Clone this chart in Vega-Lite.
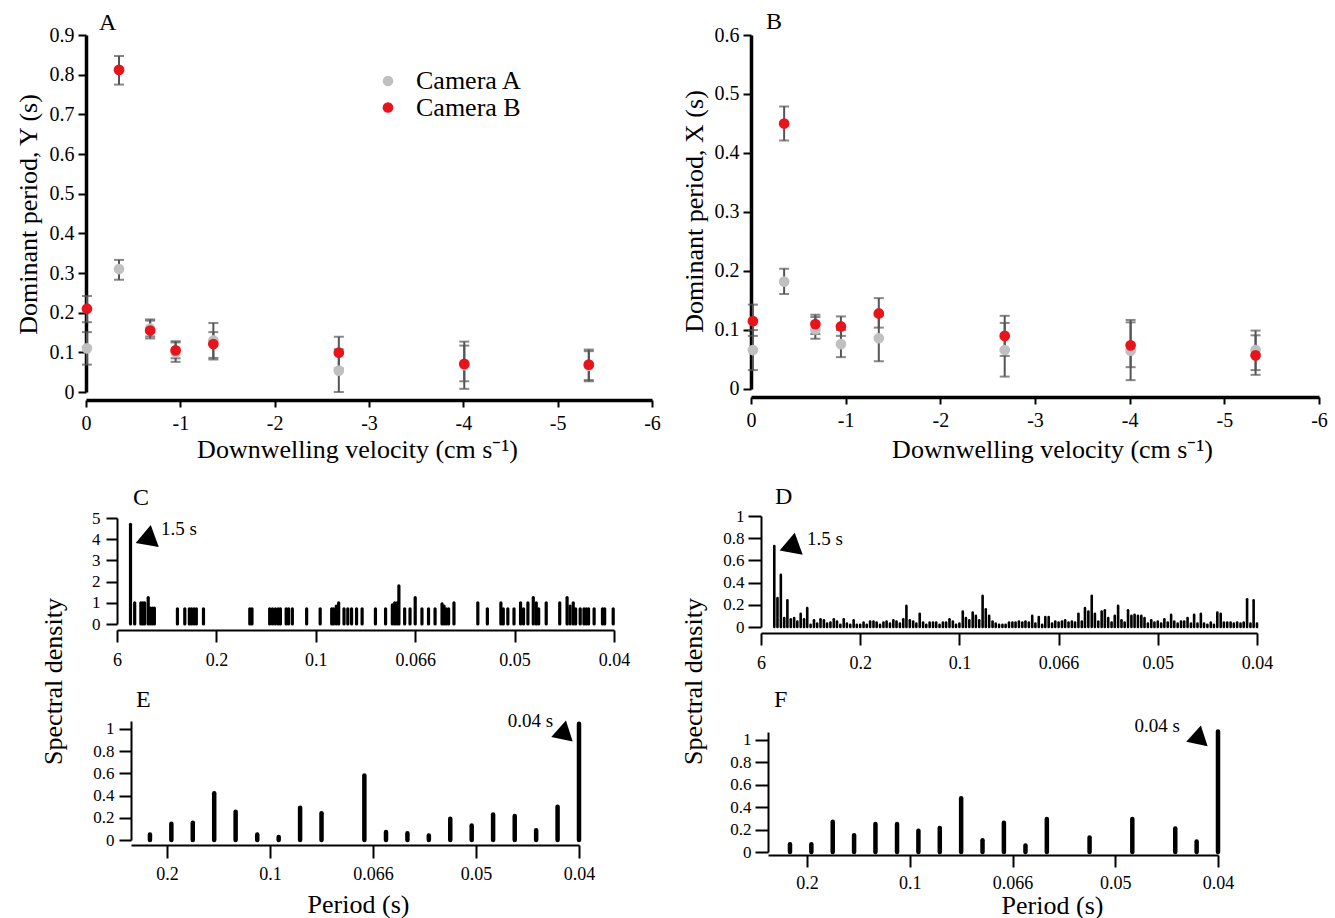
{
  "$schema": "https://vega.github.io/schema/vega-lite/v6.json",
  "background": "white",
  "padding": {"left": 15, "top": 10, "right": 5, "bottom": 0},
  "bounds": "flush",
  "spacing": 665,
  "resolve": {"scale": {"color": "independent"}, "legend": {"color": "independent"}},
  "config": {
    "font": "Liberation Serif",
    "view": {"stroke": null},
    "axis": {"grid": false, "domainColor": "black", "tickColor": "black", "labelColor": "black", "titleColor": "black", "titleFontWeight": "normal", "labelFont": "Liberation Serif", "titleFont": "Liberation Serif", "labelFlush": false, "labelOverlap": false},
    "title": {"font": "Liberation Serif", "fontWeight": "normal", "color": "black", "fontSize": 24, "anchor": "start", "frame": "group", "offset": 0, "baseline": "alphabetic"}
  },
  "datasets": {
    "a": [
      {"cam": "Camera A", "v": -0.01, "p": 0.11, "lo": 0.069, "hi": 0.151},
      {"cam": "Camera A", "v": -0.35, "p": 0.31, "lo": 0.283, "hi": 0.333},
      {"cam": "Camera A", "v": -0.68, "p": 0.16, "lo": 0.14, "hi": 0.18},
      {"cam": "Camera A", "v": -0.95, "p": 0.10, "lo": 0.076, "hi": 0.125},
      {"cam": "Camera A", "v": -1.35, "p": 0.13, "lo": 0.086, "hi": 0.174},
      {"cam": "Camera A", "v": -2.68, "p": 0.054, "lo": 0.0, "hi": 0.108},
      {"cam": "Camera A", "v": -4.01, "p": 0.068, "lo": 0.008, "hi": 0.127},
      {"cam": "Camera A", "v": -5.33, "p": 0.066, "lo": 0.027, "hi": 0.103},
      {"cam": "Camera B", "v": -0.01, "p": 0.21, "lo": 0.176, "hi": 0.242},
      {"cam": "Camera B", "v": -0.35, "p": 0.812, "lo": 0.775, "hi": 0.847},
      {"cam": "Camera B", "v": -0.68, "p": 0.155, "lo": 0.135, "hi": 0.183},
      {"cam": "Camera B", "v": -0.95, "p": 0.105, "lo": 0.085, "hi": 0.128},
      {"cam": "Camera B", "v": -1.35, "p": 0.121, "lo": 0.082, "hi": 0.151},
      {"cam": "Camera B", "v": -2.68, "p": 0.099, "lo": 0.059, "hi": 0.139},
      {"cam": "Camera B", "v": -4.01, "p": 0.071, "lo": 0.027, "hi": 0.117},
      {"cam": "Camera B", "v": -5.33, "p": 0.069, "lo": 0.03, "hi": 0.107}
    ],
    "b": [
      {"cam": "Camera A", "v": -0.02, "p": 0.066, "lo": 0.032, "hi": 0.1},
      {"cam": "Camera A", "v": -0.35, "p": 0.182, "lo": 0.161, "hi": 0.204},
      {"cam": "Camera A", "v": -0.68, "p": 0.101, "lo": 0.085, "hi": 0.122},
      {"cam": "Camera A", "v": -0.95, "p": 0.076, "lo": 0.054, "hi": 0.1},
      {"cam": "Camera A", "v": -1.35, "p": 0.086, "lo": 0.047, "hi": 0.125},
      {"cam": "Camera A", "v": -2.68, "p": 0.066, "lo": 0.021, "hi": 0.112},
      {"cam": "Camera A", "v": -4.01, "p": 0.065, "lo": 0.015, "hi": 0.117},
      {"cam": "Camera A", "v": -5.33, "p": 0.066, "lo": 0.032, "hi": 0.099},
      {"cam": "Camera B", "v": -0.02, "p": 0.115, "lo": 0.09, "hi": 0.143},
      {"cam": "Camera B", "v": -0.35, "p": 0.45, "lo": 0.421, "hi": 0.479},
      {"cam": "Camera B", "v": -0.68, "p": 0.11, "lo": 0.093, "hi": 0.126},
      {"cam": "Camera B", "v": -0.95, "p": 0.106, "lo": 0.09, "hi": 0.123},
      {"cam": "Camera B", "v": -1.35, "p": 0.128, "lo": 0.104, "hi": 0.154},
      {"cam": "Camera B", "v": -2.68, "p": 0.09, "lo": 0.056, "hi": 0.124},
      {"cam": "Camera B", "v": -4.01, "p": 0.074, "lo": 0.037, "hi": 0.113},
      {"cam": "Camera B", "v": -5.33, "p": 0.057, "lo": 0.024, "hi": 0.091}
    ],
    "c": [
      {"f": 0.68, "v": 4.7}, {"f": 0.89, "v": 1.0}, {"f": 1.20, "v": 1.0}, {"f": 1.30, "v": 1.0}, {"f": 1.39, "v": 1.0},
      {"f": 1.57, "v": 1.25}, {"f": 1.68, "v": 0.75}, {"f": 1.78, "v": 0.75}, {"f": 1.88, "v": 0.75},
      {"f": 3.04, "v": 0.72}, {"f": 3.41, "v": 0.72}, {"f": 3.64, "v": 0.72}, {"f": 3.75, "v": 0.72}, {"f": 3.87, "v": 0.72}, {"f": 3.99, "v": 0.72}, {"f": 4.35, "v": 0.72},
      {"f": 6.68, "v": 0.72}, {"f": 6.79, "v": 0.72}, {"f": 7.68, "v": 0.72}, {"f": 7.82, "v": 0.72}, {"f": 7.97, "v": 0.72}, {"f": 8.11, "v": 0.72}, {"f": 8.22, "v": 0.72},
      {"f": 8.51, "v": 0.72}, {"f": 8.63, "v": 0.72}, {"f": 8.82, "v": 0.72}, {"f": 9.54, "v": 0.72}, {"f": 10.22, "v": 0.72},
      {"f": 10.80, "v": 0.72}, {"f": 10.89, "v": 0.72}, {"f": 11.03, "v": 0.85}, {"f": 11.15, "v": 1.0}, {"f": 11.42, "v": 0.72}, {"f": 11.61, "v": 0.72}, {"f": 11.80, "v": 0.72},
      {"f": 12.05, "v": 0.72}, {"f": 12.33, "v": 0.72}, {"f": 13.00, "v": 0.72}, {"f": 13.51, "v": 0.72}, {"f": 13.85, "v": 0.9}, {"f": 13.97, "v": 1.0}, {"f": 14.09, "v": 1.0},
      {"f": 14.18, "v": 1.8}, {"f": 14.47, "v": 0.72}, {"f": 14.74, "v": 0.72}, {"f": 15.00, "v": 1.25}, {"f": 15.34, "v": 0.72}, {"f": 15.67, "v": 0.72}, {"f": 16.00, "v": 0.72},
      {"f": 16.35, "v": 0.95}, {"f": 16.45, "v": 0.85}, {"f": 16.56, "v": 0.72}, {"f": 16.68, "v": 0.72}, {"f": 16.95, "v": 1.0},
      {"f": 18.15, "v": 1.0}, {"f": 18.63, "v": 0.72}, {"f": 19.31, "v": 1.0}, {"f": 19.43, "v": 0.72}, {"f": 19.66, "v": 0.72}, {"f": 19.97, "v": 0.72},
      {"f": 20.30, "v": 1.0}, {"f": 20.45, "v": 0.72}, {"f": 20.67, "v": 1.0}, {"f": 20.94, "v": 1.25}, {"f": 21.09, "v": 1.0}, {"f": 21.21, "v": 0.72}, {"f": 21.59, "v": 1.0},
      {"f": 22.27, "v": 1.0}, {"f": 22.64, "v": 1.25}, {"f": 22.79, "v": 0.85}, {"f": 22.95, "v": 1.0}, {"f": 23.07, "v": 0.72}, {"f": 23.30, "v": 0.72},
      {"f": 23.49, "v": 0.72}, {"f": 23.61, "v": 0.72}, {"f": 23.72, "v": 0.72}, {"f": 24.00, "v": 0.72}, {"f": 24.42, "v": 0.72}, {"f": 24.53, "v": 0.72}, {"f": 24.96, "v": 0.72}
    ],
    "d": [
      {"f": 0.67, "v": 0.73}, {"f": 0.83, "v": 0.26}, {"f": 1.00, "v": 0.47}, {"f": 1.17, "v": 0.08}, {"f": 1.33, "v": 0.24}, {"f": 1.50, "v": 0.07},
      {"f": 1.67, "v": 0.08}, {"f": 1.83, "v": 0.05}, {"f": 2.00, "v": 0.12}, {"f": 2.17, "v": 0.07}, {"f": 2.33, "v": 0.17}, {"f": 2.50, "v": 0.02},
      {"f": 2.67, "v": 0.06}, {"f": 2.83, "v": 0.03}, {"f": 3.00, "v": 0.07}, {"f": 3.17, "v": 0.06}, {"f": 3.33, "v": 0.03}, {"f": 3.50, "v": 0.04},
      {"f": 3.67, "v": 0.07}, {"f": 3.83, "v": 0.05}, {"f": 4.00, "v": 0.02}, {"f": 4.17, "v": 0.07}, {"f": 4.33, "v": 0.03}, {"f": 4.50, "v": 0.02},
      {"f": 4.67, "v": 0.06}, {"f": 4.83, "v": 0.02}, {"f": 5.00, "v": 0.02}, {"f": 5.17, "v": 0.04}, {"f": 5.33, "v": 0.02}, {"f": 5.50, "v": 0.05},
      {"f": 5.67, "v": 0.05}, {"f": 5.83, "v": 0.04}, {"f": 6.00, "v": 0.02}, {"f": 6.17, "v": 0.04}, {"f": 6.33, "v": 0.05}, {"f": 6.50, "v": 0.03},
      {"f": 6.67, "v": 0.06}, {"f": 6.83, "v": 0.05}, {"f": 7.00, "v": 0.03}, {"f": 7.17, "v": 0.07}, {"f": 7.33, "v": 0.19}, {"f": 7.50, "v": 0.06},
      {"f": 7.67, "v": 0.05}, {"f": 7.83, "v": 0.03}, {"f": 8.00, "v": 0.12}, {"f": 8.17, "v": 0.04}, {"f": 8.33, "v": 0.02}, {"f": 8.50, "v": 0.04},
      {"f": 8.67, "v": 0.04}, {"f": 8.83, "v": 0.04}, {"f": 9.00, "v": 0.02}, {"f": 9.17, "v": 0.04}, {"f": 9.33, "v": 0.04}, {"f": 9.50, "v": 0.07},
      {"f": 9.67, "v": 0.05}, {"f": 9.83, "v": 0.02}, {"f": 10.00, "v": 0.03}, {"f": 10.17, "v": 0.14}, {"f": 10.33, "v": 0.08}, {"f": 10.50, "v": 0.06},
      {"f": 10.67, "v": 0.13}, {"f": 10.83, "v": 0.1}, {"f": 11.00, "v": 0.06}, {"f": 11.17, "v": 0.28}, {"f": 11.33, "v": 0.16}, {"f": 11.50, "v": 0.1},
      {"f": 11.67, "v": 0.05}, {"f": 11.83, "v": 0.03}, {"f": 12.00, "v": 0.02}, {"f": 12.17, "v": 0.02}, {"f": 12.33, "v": 0.02}, {"f": 12.50, "v": 0.04},
      {"f": 12.67, "v": 0.04}, {"f": 12.83, "v": 0.04}, {"f": 13.00, "v": 0.05}, {"f": 13.17, "v": 0.04}, {"f": 13.33, "v": 0.05}, {"f": 13.50, "v": 0.04},
      {"f": 13.67, "v": 0.1}, {"f": 13.83, "v": 0.03}, {"f": 14.00, "v": 0.09}, {"f": 14.17, "v": 0.02}, {"f": 14.33, "v": 0.09}, {"f": 14.50, "v": 0.09},
      {"f": 14.67, "v": 0.03}, {"f": 14.83, "v": 0.05}, {"f": 15.00, "v": 0.04}, {"f": 15.17, "v": 0.05}, {"f": 15.33, "v": 0.06}, {"f": 15.50, "v": 0.04},
      {"f": 15.67, "v": 0.05}, {"f": 15.83, "v": 0.04}, {"f": 16.00, "v": 0.12}, {"f": 16.17, "v": 0.05}, {"f": 16.33, "v": 0.17}, {"f": 16.50, "v": 0.14},
      {"f": 16.67, "v": 0.28}, {"f": 16.83, "v": 0.12}, {"f": 17.00, "v": 0.05}, {"f": 17.17, "v": 0.14}, {"f": 17.33, "v": 0.15}, {"f": 17.50, "v": 0.08},
      {"f": 17.67, "v": 0.04}, {"f": 17.83, "v": 0.1}, {"f": 18.00, "v": 0.19}, {"f": 18.17, "v": 0.06}, {"f": 18.33, "v": 0.04}, {"f": 18.50, "v": 0.15},
      {"f": 18.67, "v": 0.1}, {"f": 18.83, "v": 0.11}, {"f": 19.00, "v": 0.1}, {"f": 19.17, "v": 0.1}, {"f": 19.33, "v": 0.08}, {"f": 19.50, "v": 0.03},
      {"f": 19.67, "v": 0.06}, {"f": 19.83, "v": 0.04}, {"f": 20.00, "v": 0.05}, {"f": 20.17, "v": 0.03}, {"f": 20.33, "v": 0.07}, {"f": 20.50, "v": 0.04},
      {"f": 20.67, "v": 0.11}, {"f": 20.83, "v": 0.05}, {"f": 21.00, "v": 0.03}, {"f": 21.17, "v": 0.05}, {"f": 21.33, "v": 0.05}, {"f": 21.50, "v": 0.08},
      {"f": 21.67, "v": 0.03}, {"f": 21.83, "v": 0.11}, {"f": 22.00, "v": 0.03}, {"f": 22.17, "v": 0.12}, {"f": 22.33, "v": 0.03}, {"f": 22.50, "v": 0.02},
      {"f": 22.67, "v": 0.04}, {"f": 22.83, "v": 0.02}, {"f": 23.00, "v": 0.13}, {"f": 23.17, "v": 0.12}, {"f": 23.33, "v": 0.04}, {"f": 23.50, "v": 0.04},
      {"f": 23.67, "v": 0.04}, {"f": 23.83, "v": 0.03}, {"f": 24.00, "v": 0.04}, {"f": 24.17, "v": 0.03}, {"f": 24.33, "v": 0.04}, {"f": 24.50, "v": 0.25},
      {"f": 24.67, "v": 0.03}, {"f": 24.83, "v": 0.24}, {"f": 25.00, "v": 0.03}
    ],
    "e": [
      {"f": 4.17, "v": 0.05}, {"f": 5.21, "v": 0.145}, {"f": 6.25, "v": 0.155}, {"f": 7.29, "v": 0.42}, {"f": 8.33, "v": 0.255},
      {"f": 9.38, "v": 0.05}, {"f": 10.42, "v": 0.027}, {"f": 11.46, "v": 0.29}, {"f": 12.50, "v": 0.24}, {"f": 14.58, "v": 0.58},
      {"f": 15.63, "v": 0.072}, {"f": 16.67, "v": 0.06}, {"f": 17.71, "v": 0.04}, {"f": 18.75, "v": 0.19}, {"f": 19.79, "v": 0.13},
      {"f": 20.83, "v": 0.23}, {"f": 21.88, "v": 0.215}, {"f": 22.92, "v": 0.087}, {"f": 23.96, "v": 0.30}, {"f": 25.00, "v": 1.045}
    ],
    "f": [
      {"f": 4.17, "v": 0.07}, {"f": 5.21, "v": 0.07}, {"f": 6.25, "v": 0.27}, {"f": 7.29, "v": 0.15}, {"f": 8.33, "v": 0.25},
      {"f": 9.38, "v": 0.25}, {"f": 10.42, "v": 0.19}, {"f": 11.46, "v": 0.215}, {"f": 12.50, "v": 0.48}, {"f": 13.54, "v": 0.105},
      {"f": 14.58, "v": 0.26}, {"f": 15.63, "v": 0.057}, {"f": 16.67, "v": 0.295}, {"f": 18.75, "v": 0.13}, {"f": 20.83, "v": 0.295},
      {"f": 22.92, "v": 0.21}, {"f": 23.96, "v": 0.093}, {"f": 25.00, "v": 1.075}
    ]
  },
  "hconcat": [
    {
      "vconcat": [
        {
          "width": 566, "height": 386,
          "title": {"text": "A", "dx": 13, "dy": 14},
          "data": {"name": "a"},
          "layer": [
            {
              "mark": {"type": "errorbar", "color": "#555555", "size": 10, "thickness": 2, "ticks": true},
              "encoding": {
                "x": {"field": "v", "type": "quantitative", "scale": {"domain": [0, -6], "nice": false, "zero": false},
                  "axis": {"values": [0, -1, -2, -3, -4, -5, -6], "tickCount": 20, "labelExpr": "'' + datum.value", "labelOverlap": false, "title": "Downwelling velocity (cm s⁻¹)", "titleFontSize": 26, "titleX": 271, "titleY": 49, "titleBaseline": "middle", "titleAlign": "center", "labelFontSize": 20, "labelPadding": 6, "tickSize": 7, "tickWidth": 2, "domainWidth": 3.5, "offset": -21}},
                "y": {"field": "lo", "type": "quantitative", "scale": {"domain": [-0.0731, 0.9], "nice": false, "zero": false},
                  "axis": {"values": [0, 0.1, 0.2, 0.3, 0.4, 0.5, 0.6, 0.7, 0.8, 0.9], "tickCount": 20, "labelExpr": "'' + datum.value", "labelOverlap": false, "title": "Dominant period, Y (s)", "titleFontSize": 26, "titleX": -58, "titleY": 179, "titleBaseline": "middle", "titleAlign": "center", "labelFontSize": 20, "labelPadding": 4, "tickSize": 8, "tickWidth": 2, "domainWidth": 3.5, "domainDash": [0, 29, 2000]}},
                "y2": {"field": "hi"}
              }
            },
            {
              "mark": {"type": "point", "filled": true, "size": 115, "opacity": 1},
              "encoding": {
                "x": {"field": "v", "type": "quantitative"},
                "y": {"field": "p", "type": "quantitative"},
                "color": {"field": "cam", "type": "nominal", "scale": {"domain": ["Camera A", "Camera B"], "range": ["#c0c0c0", "#e8141c"]},
                  "legend": {"orient": "none", "legendX": 289, "legendY": 33, "title": null, "symbolType": "circle", "symbolSize": 113, "symbolStrokeWidth": 0, "labelFontSize": 26, "labelFont": "Liberation Serif", "labelColor": "black", "labelOffset": 15, "rowPadding": 0.5, "padding": 0}}
              }
            }
          ]
        },
        {
          "width": 528, "height": 106,
          "title": {"text": "C", "dx": 47, "dy": 4.5},
          "layer": [
            {
              "data": {"name": "c"},
              "mark": {"type": "rule", "strokeWidth": 3.2, "strokeCap": "round", "color": "black"},
              "encoding": {
                "x": {"field": "f", "type": "quantitative", "scale": {"domain": [-1.559, 25], "nice": false, "zero": false},
                  "axis": {"values": [0, 5, 10, 15, 20, 25], "tickCount": 20, "labelExpr": "datum.value == 0 ? '6' : datum.value == 5 ? '0.2' : datum.value == 10 ? '0.1' : datum.value == 15 ? '0.066' : datum.value == 20 ? '0.05' : '0.04'", "labelOverlap": false, "title": null, "labelFontSize": 18, "labelPadding": 9, "tickSize": 12, "tickWidth": 2, "domainWidth": 2, "offset": 6, "domainDash": [0, 31, 2000]}},
                "y": {"field": "v", "type": "quantitative", "scale": {"domain": [0, 5], "nice": false},
                  "axis": {"values": [0, 1, 2, 3, 4, 5], "tickCount": 20, "labelExpr": "'' + datum.value", "labelOverlap": false, "title": "Spectral density", "titleFontSize": 26, "titleX": -64, "titleY": 163, "titleBaseline": "middle", "titleAlign": "center", "labelFontSize": 17, "labelPadding": 6, "tickSize": 11, "tickWidth": 2, "domainWidth": 2, "offset": -31}},
                "y2": {"datum": 0}
              }
            },
            {
              "data": {"values": [{}]},
              "mark": {"type": "point", "shape": "triangle-up", "filled": true, "color": "black", "opacity": 1, "size": 550, "angle": 10},
              "encoding": {"x": {"datum": 1.61, "type": "quantitative"}, "y": {"datum": 4.2, "type": "quantitative"}}
            },
            {
              "data": {"values": [{}]},
              "mark": {"type": "text", "text": "1.5 s", "align": "left", "baseline": "middle", "fontSize": 19, "font": "Liberation Serif", "color": "black"},
              "encoding": {"x": {"datum": 2.21, "type": "quantitative"}, "y": {"datum": 4.48, "type": "quantitative"}}
            }
          ]
        },
        {
          "width": 493, "height": 119,
          "title": {"text": "E", "dx": 50, "dy": 3.5},
          "layer": [
            {
              "data": {"name": "e"},
              "mark": {"type": "rule", "strokeWidth": 4.5, "strokeCap": "round", "color": "black"},
              "encoding": {
                "x": {"field": "f", "type": "quantitative", "scale": {"domain": [1.066, 25], "nice": false, "zero": false},
                  "axis": {"values": [5, 10, 15, 20, 25], "tickCount": 20, "labelExpr": "datum.value == 5 ? '0.2' : datum.value == 10 ? '0.1' : datum.value == 15 ? '0.066' : datum.value == 20 ? '0.05' : '0.04'", "labelOverlap": false, "title": "Period (s)", "titleFontSize": 26, "titleX": 272, "titleY": 59, "titleBaseline": "middle", "titleAlign": "center", "labelFontSize": 18, "labelPadding": 7, "tickSize": 13, "tickWidth": 2, "domainWidth": 2, "offset": 5, "domainDash": [0, 45, 2000]}},
                "y": {"field": "v", "type": "quantitative", "scale": {"domain": [0, 1.07], "nice": false},
                  "axis": {"values": [0, 0.2, 0.4, 0.6, 0.8, 1], "tickCount": 20, "labelExpr": "'' + datum.value", "labelOverlap": false, "title": null, "labelFontSize": 17, "labelPadding": 5, "tickSize": 12, "tickWidth": 2, "domainWidth": 2, "offset": -45}},
                "y2": {"datum": 0}
              }
            },
            {
              "data": {"values": [{}]},
              "mark": {"type": "point", "shape": "triangle-up", "filled": true, "color": "black", "opacity": 1, "size": 480, "angle": 12},
              "encoding": {"x": {"datum": 24.27, "type": "quantitative"}, "y": {"datum": 0.99, "type": "quantitative"}}
            },
            {
              "data": {"values": [{}]},
              "mark": {"type": "text", "text": "0.04 s", "align": "right", "baseline": "middle", "fontSize": 19, "font": "Liberation Serif", "color": "black"},
              "encoding": {"x": {"datum": 23.74, "type": "quantitative"}, "y": {"datum": 1.07, "type": "quantitative"}}
            }
          ]
        }
      ],
      "bounds": "flush",
      "spacing": 97,
      "resolve": {"scale": {"color": "independent"}, "legend": {"color": "independent"}}
    },
    {
      "vconcat": [
        {
          "width": 568, "height": 376,
          "title": {"text": "B", "dx": 15, "dy": 13},
          "data": {"name": "b"},
          "layer": [
            {
              "mark": {"type": "errorbar", "color": "#555555", "size": 10, "thickness": 2, "ticks": true},
              "encoding": {
                "x": {"field": "v", "type": "quantitative", "scale": {"domain": [0, -6], "nice": false, "zero": false},
                  "axis": {"values": [0, -1, -2, -3, -4, -5, -6], "tickCount": 20, "labelExpr": "'' + datum.value", "labelOverlap": false, "title": "Downwelling velocity (cm s⁻¹)", "titleFontSize": 26, "titleX": 301, "titleY": 52, "titleBaseline": "middle", "titleAlign": "center", "labelFontSize": 20, "labelPadding": 6, "tickSize": 7, "tickWidth": 2, "domainWidth": 3.5, "offset": -14}},
                "y": {"field": "lo", "type": "quantitative", "scale": {"domain": [-0.0373, 0.6], "nice": false, "zero": false},
                  "axis": {"values": [0, 0.1, 0.2, 0.3, 0.4, 0.5, 0.6], "tickCount": 20, "labelExpr": "'' + datum.value", "labelOverlap": false, "title": "Dominant period, X (s)", "titleFontSize": 26, "titleX": -57, "titleY": 176, "titleBaseline": "middle", "titleAlign": "center", "labelFontSize": 20, "labelPadding": 4, "tickSize": 8, "tickWidth": 2, "domainWidth": 3.5, "domainDash": [0, 22, 2000]}},
                "y2": {"field": "hi"}
              }
            },
            {
              "mark": {"type": "point", "filled": true, "size": 115, "opacity": 1},
              "encoding": {
                "x": {"field": "v", "type": "quantitative"},
                "y": {"field": "p", "type": "quantitative"},
                "color": {"field": "cam", "type": "nominal", "scale": {"domain": ["Camera A", "Camera B"], "range": ["#c0c0c0", "#e8141c"]}, "legend": null}
              }
            }
          ]
        },
        {
          "width": 506, "height": 111,
          "title": {"text": "D", "dx": 24, "dy": 5.5},
          "layer": [
            {
              "data": {"name": "d"},
              "mark": {"type": "rule", "strokeWidth": 2.6, "strokeCap": "round", "color": "black"},
              "encoding": {
                "x": {"field": "f", "type": "quantitative", "scale": {"domain": [-0.504, 25], "nice": false, "zero": false},
                  "axis": {"values": [0, 5, 10, 15, 20, 25], "tickCount": 20, "labelExpr": "datum.value == 0 ? '6' : datum.value == 5 ? '0.2' : datum.value == 10 ? '0.1' : datum.value == 15 ? '0.066' : datum.value == 20 ? '0.05' : '0.04'", "labelOverlap": false, "title": null, "labelFontSize": 18, "labelPadding": 9, "tickSize": 12, "tickWidth": 2, "domainWidth": 2, "offset": 6, "domainDash": [0, 10, 2000]}},
                "y": {"field": "v", "type": "quantitative", "scale": {"domain": [0, 1], "nice": false},
                  "axis": {"values": [0, 0.2, 0.4, 0.6, 0.8, 1], "tickCount": 20, "labelExpr": "'' + datum.value", "labelOverlap": false, "title": "Spectral density", "titleFontSize": 26, "titleX": -68, "titleY": 165, "titleBaseline": "middle", "titleAlign": "center", "labelFontSize": 17, "labelPadding": 4, "tickSize": 13, "tickWidth": 2, "domainWidth": 2, "offset": -10}},
                "y2": {"datum": 0}
              }
            },
            {
              "data": {"values": [{}]},
              "mark": {"type": "point", "shape": "triangle-up", "filled": true, "color": "black", "opacity": 1, "size": 550, "angle": 10},
              "encoding": {"x": {"datum": 1.61, "type": "quantitative"}, "y": {"datum": 0.76, "type": "quantitative"}}
            },
            {
              "data": {"values": [{}]},
              "mark": {"type": "text", "text": "1.5 s", "align": "left", "baseline": "middle", "fontSize": 19, "font": "Liberation Serif", "color": "black"},
              "encoding": {"x": {"datum": 2.32, "type": "quantitative"}, "y": {"datum": 0.79, "type": "quantitative"}}
            }
          ]
        },
        {
          "width": 467, "height": 120,
          "title": {"text": "F", "dx": 23, "dy": -1.5},
          "layer": [
            {
              "data": {"name": "f"},
              "mark": {"type": "rule", "strokeWidth": 4.5, "strokeCap": "round", "color": "black"},
              "encoding": {
                "x": {"field": "f", "type": "quantitative", "scale": {"domain": [2.273, 25], "nice": false, "zero": false},
                  "axis": {"values": [5, 10, 15, 20, 25], "tickCount": 20, "labelExpr": "datum.value == 5 ? '0.2' : datum.value == 10 ? '0.1' : datum.value == 15 ? '0.066' : datum.value == 20 ? '0.05' : '0.04'", "labelOverlap": false, "title": "Period (s)", "titleFontSize": 26, "titleX": 301, "titleY": 50, "titleBaseline": "middle", "titleAlign": "center", "labelFontSize": 18, "labelPadding": 7, "tickSize": 12, "tickWidth": 2, "domainWidth": 2, "offset": 3, "domainDash": [0, 17, 2000]}},
                "y": {"field": "v", "type": "quantitative", "scale": {"domain": [0, 1.07], "nice": false},
                  "axis": {"values": [0, 0.2, 0.4, 0.6, 0.8, 1], "tickCount": 20, "labelExpr": "'' + datum.value", "labelOverlap": false, "title": null, "labelFontSize": 17, "labelPadding": 4, "tickSize": 13, "tickWidth": 2, "domainWidth": 2, "offset": -17}},
                "y2": {"datum": 0}
              }
            },
            {
              "data": {"values": [{}]},
              "mark": {"type": "point", "shape": "triangle-up", "filled": true, "color": "black", "opacity": 1, "size": 480, "angle": 12},
              "encoding": {"x": {"datum": 24.07, "type": "quantitative"}, "y": {"datum": 1.045, "type": "quantitative"}}
            },
            {
              "data": {"values": [{}]},
              "mark": {"type": "text", "text": "0.04 s", "align": "right", "baseline": "middle", "fontSize": 19, "font": "Liberation Serif", "color": "black"},
              "encoding": {"x": {"datum": 23.15, "type": "quantitative"}, "y": {"datum": 1.12, "type": "quantitative"}}
            }
          ]
        }
      ],
      "bounds": "flush",
      "spacing": 105,
      "resolve": {"scale": {"color": "independent"}, "legend": {"color": "independent"}}
    }
  ]
}
